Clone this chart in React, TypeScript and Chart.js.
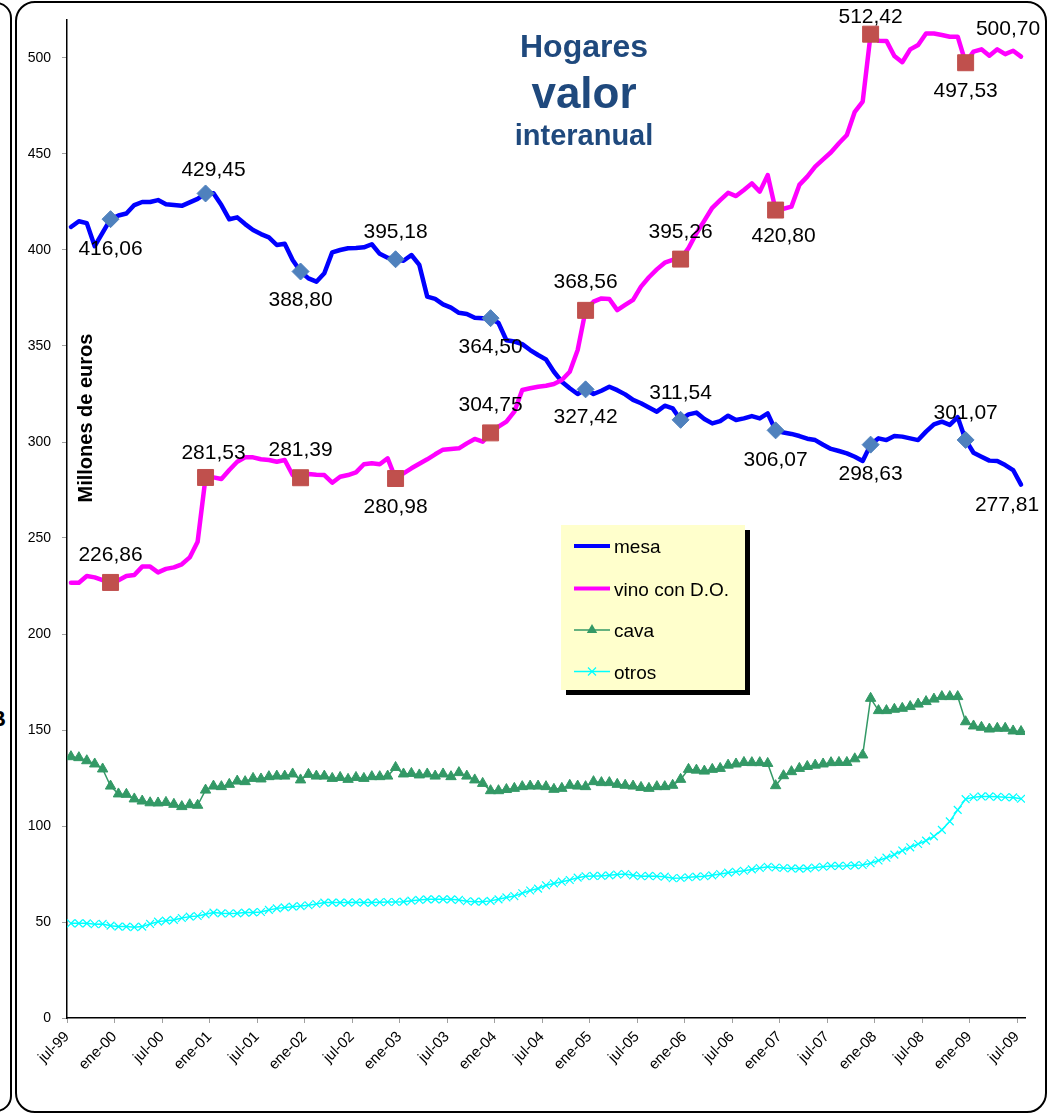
import React, { useEffect, useRef } from "react";
import { Chart, registerables } from "chart.js";

Chart.register(...registerables);

const FONT = '"Liberation Sans", Arial, Helvetica, sans-serif';

// ---- Axis ticks ----
const xTickLabels = [
  "jul-99", "ene-00", "jul-00", "ene-01", "jul-01", "ene-02", "jul-02",
  "ene-03", "jul-03", "ene-04", "jul-04", "ene-05", "jul-05", "ene-06",
  "jul-06", "ene-07", "jul-07", "ene-08", "jul-08", "ene-09", "jul-09",
];
const xTickMonths = [0, 6, 12, 18, 24, 30, 36, 42, 48, 54, 60, 66, 72, 78, 84, 90, 96, 102, 108, 114, 120];
const yTicks = [0, 50, 100, 150, 200, 250, 300, 350, 400, 450, 500];

// ---- Series (monthly, jul-99 .. jul-09, millones de euros) ----
const mesa = [
  412, 415, 414, 402, 409, 416.06, 418, 419, 423.4, 425, 425, 426,
  423.8, 423.4, 423, 424.8, 426.6, 429.45, 429.5, 423.4, 416, 417, 413.5, 410.4,
  408.3, 406.6, 402.6, 403.3, 394.8, 388.8, 385.2, 383.5, 387.9, 398.8, 400, 400.9,
  401, 401.4, 403, 398, 396, 395.18, 394.4, 397.4, 392.2, 375.7, 374.5, 371.7,
  370, 367.3, 366.7, 364.7, 364.4, 364.5, 362, 353, 352.3, 351, 347.9, 345.3,
  343, 336.6, 331.4, 328, 325, 327.42, 325, 326.7, 328.8, 327, 324.8, 321.9,
  320.2, 318, 315.8, 318.9, 317.5, 311.54, 314.4, 315.3, 312, 309.7, 310.9, 313.7,
  311.5, 312.3, 313.5, 312.3, 314.9, 306.07, 304.9, 304.2, 303.1, 301.7, 301, 298.6,
  296.4, 295.3, 294.1, 292.3, 290.1, 298.63, 301.9, 301, 303.1, 302.8, 301.9, 301,
  305.4, 309.2, 310.6, 308.9, 312.9, 301.07, 294.4, 292.3, 290.3, 290.1, 288, 285.4,
  277.81,
];
const vino = [
  226.7, 226.7, 230.2, 229.5, 228.1, 226.86, 228, 230.2, 230.7, 235.1, 235.1, 232.1,
  233.9, 234.7, 236.3, 239.9, 248.1, 281.53, 281.6, 280.7, 285.4, 289.7, 292, 292,
  291, 290.6, 289.7, 290.6, 282.8, 281.39, 283.3, 283, 282.8, 278.8, 281.9, 282.8,
  284.2, 288.4, 288.9, 288.4, 291.5, 280.98, 283.7, 286.3, 288.7, 291, 293.6, 296,
  296.4, 296.7, 299.3, 301.6, 300.2, 304.75, 308, 310.6, 315.8, 327.1, 328, 328.8,
  329.3, 330.2, 332.3, 336.6, 347.9, 368.56, 373.1, 374.8, 374.5, 368.7, 371.4, 374,
  380.9, 385.8, 389.9, 393.4, 394.8, 395.26, 401, 408.7, 415.3, 422, 426, 429.8,
  428.1, 431.3, 434.7, 430.4, 439, 420.8, 421.5, 422.6, 433.9, 438.2, 443.4, 447.2,
  450.9, 455.6, 459.9, 472, 477.3, 512.42, 509, 508.9, 501, 497.8, 504.5, 506.8,
  512.8, 512.8, 512, 511.1, 511.1, 497.53, 503.3, 504.5, 501.2, 504.5, 502, 503.8,
  500.7,
];
const cava = [
  136.1, 135.6, 134, 132.3, 129.7, 120.8, 116.7, 116.5, 114.1, 113, 112.1, 112,
  112.3, 111.3, 110.1, 111.1, 110.8, 118.7, 120.8, 120.5, 121.7, 123.4, 123.1, 124.8,
  124.5, 125.7, 126, 126, 127.1, 124, 126.9, 126, 126, 124.8, 125.3, 124.3,
  125.3, 124.8, 125.7, 125.7, 126, 130.5, 127.1, 127.4, 126.6, 127.1, 126, 127.1,
  125.7, 127.8, 126, 124, 122.2, 118.4, 118.4, 119, 119.6, 120.5, 120.8, 120.8,
  120.5, 119.1, 119.6, 121.2, 120.8, 120.5, 123.1, 122.6, 122.6, 121.7, 121.2, 120.8,
  120.1, 119.6, 120.5, 120.5, 121.2, 124.3, 129.5, 129.1, 128.6, 129.5, 130, 131.7,
  132.3, 133.1, 133, 133, 132.6, 121, 126.2, 128.3, 130, 131, 131.7, 132.3,
  133, 133.1, 133.1, 135, 137, 166.5, 160.1, 160.1, 160.8, 161.3, 162.2, 163.5,
  164.8, 166.1, 167.4, 167.4, 167.4, 154.3, 152.1, 151.4, 150.5, 150.9, 150.9, 149.5,
  149.2,
];
const otros = [
  49.3, 49.3, 49.3, 48.8, 49, 48.1, 47.6, 47.6, 47.3, 47.6, 49, 50.2,
  50.7, 51.1, 52.1, 52.8, 53.1, 54, 54.9, 54.5, 54.4, 54.5, 54.9, 55,
  55.2, 56.3, 57.1, 57.6, 58, 58.3, 58.7, 59.4, 60.1, 60.1, 60.1, 60.1,
  60.3, 60.1, 60.1, 60.3, 60.4, 60.4, 60.6, 61.1, 61.5, 61.8, 61.8, 61.8,
  61.8, 61.5, 60.8, 60.6, 60.6, 61, 61.8, 62.8, 63.5, 65, 66.4, 67.4,
  69.1, 70.1, 71, 71.9, 73.1, 73.8, 74, 74, 74.3, 74.7, 75, 74.3,
  73.8, 74, 73.8, 73.6, 72.8, 72.9, 73.3, 73.6, 73.8, 74.3, 75, 75.7,
  76.2, 76.7, 77.4, 78.1, 78.8, 78.4, 78.1, 77.9, 77.8, 77.9, 78.4, 78.8,
  79.2, 79.2, 79.3, 79.5, 79.7, 80.6, 82, 83.5, 85.1, 87.2, 88.9, 90.6,
  92.4, 94.6, 98, 102.4, 108.4, 114, 115, 115.4, 115.4, 115.2, 115, 114.9,
  114.2,
];

// December (year-end) points carrying markers and value labels, plus the last month
const annualMonths = [5, 17, 29, 41, 53, 65, 77, 89, 101, 113];
const labeledMonths = [5, 17, 29, 41, 53, 65, 77, 89, 101, 113, 120];

const seriesNames = ["mesa", "vino con D.O.", "cava", "otros"];
const titleLines = ["Hogares", "valor", "interanual"];
const yAxisTitle = "Millones de euros";

// label placement offsets (px) relative to the point, same order as labeledMonths
const mesaLabelOffsets = [[0, 30], [8, -23], [0, 29], [0, -27], [0, 29], [0, 28], [0, -27], [0, 30], [0, 30], [0, -27], [-14, 21]];
const vinoLabelOffsets = [[0, -27], [8, -24], [0, -28], [0, 29], [0, -28], [0, -28], [0, -27], [8, 26], [0, -17], [0, 28], [-13, -27]];

const fmt = (v: number) => v.toFixed(2).replace(".", ",");

const overlayPlugin = {
  id: "overlay",
  afterDatasetsDraw(chart: any) {
    const ctx = chart.ctx as CanvasRenderingContext2D;
    ctx.save();
    // value labels
    ctx.fillStyle = "#000";
    ctx.font = `21px ${FONT}`;
    ctx.textAlign = "center";
    ctx.textBaseline = "middle";
    const drawLabels = (dsIndex: number, offsets: number[][]) => {
      const meta = chart.getDatasetMeta(dsIndex);
      const ds = chart.data.datasets[dsIndex];
      labeledMonths.forEach((m, k) => {
        const el = meta.data[m];
        const val = (ds.data[m] as any).y as number;
        ctx.fillText(fmt(val), el.x + offsets[k][0], el.y + offsets[k][1]);
      });
    };
    drawLabels(0, mesaLabelOffsets);
    drawLabels(1, vinoLabelOffsets);

    // title
    ctx.fillStyle = "#1F497D";
    ctx.textBaseline = "alphabetic";
    ctx.font = `bold 32px ${FONT}`;
    ctx.fillText(titleLines[0], 584, 57);
    ctx.font = `bold 44px ${FONT}`;
    ctx.fillText(titleLines[1], 584, 108);
    ctx.font = `bold 29px ${FONT}`;
    ctx.fillText(titleLines[2], 584, 145);

    // y-axis title (inside the plot)
    ctx.save();
    ctx.translate(86.5, 418);
    ctx.rotate(-Math.PI / 2);
    ctx.fillStyle = "#000";
    ctx.font = `bold 20px ${FONT}`;
    ctx.textBaseline = "middle";
    ctx.textAlign = "center";
    ctx.fillText(yAxisTitle, 0, 0);
    ctx.restore();

    // legend
    const lx = 561, ly = 525, lw = 184, lh = 165;
    ctx.fillStyle = "#000";
    ctx.fillRect(lx + 5, ly + 5, lw, lh);
    ctx.fillStyle = "#FFFFCC";
    ctx.fillRect(lx, ly, lw, lh);
    const rows = [546, 588.5, 630, 671.5];
    rows.forEach((ry, k) => {
      const ds = chart.data.datasets[k];
      ctx.strokeStyle = ds.borderColor;
      ctx.lineWidth = k < 2 ? 4 : 1.5;
      ctx.lineCap = "butt";
      ctx.beginPath();
      ctx.moveTo(574, ry);
      ctx.lineTo(610, ry);
      ctx.stroke();
      if (k === 2) {
        ctx.fillStyle = ds.borderColor;
        const r = 6;
        ctx.beginPath();
        ctx.moveTo(592, ry - r);
        ctx.lineTo(592 + r * 0.866, ry + r * 0.5);
        ctx.lineTo(592 - r * 0.866, ry + r * 0.5);
        ctx.closePath();
        ctx.fill();
      } else if (k === 3) {
        ctx.lineWidth = 1.2;
        const r = 4;
        ctx.beginPath();
        ctx.moveTo(592 - r, ry - r);
        ctx.lineTo(592 + r, ry + r);
        ctx.moveTo(592 + r, ry - r);
        ctx.lineTo(592 - r, ry + r);
        ctx.stroke();
      }
      ctx.fillStyle = "#000";
      ctx.font = `19px ${FONT}`;
      ctx.textAlign = "left";
      ctx.textBaseline = "alphabetic";
      ctx.fillText(seriesNames[k], 614, ry + 7);
    });
    ctx.restore();
  },
};

export default function App() {
  const ref = useRef<HTMLCanvasElement>(null);

  useEffect(() => {
    const canvas = ref.current;
    if (!canvas) return;
    const toPts = (arr: number[]) => arr.map((v, i) => ({ x: i + 0.5, y: v }));
    const markerRadius = (r: number) => (c: any) => (annualMonths.includes(c.dataIndex) ? r : 0);

    const chart = new Chart(canvas, {
      type: "line",
      data: {
        datasets: [
          {
            label: seriesNames[0],
            data: toPts(mesa),
            borderColor: "#0000FF",
            borderWidth: 4.5,
            borderJoinStyle: "round",
            borderCapStyle: "round",
            pointStyle: "rectRot",
            pointRadius: markerRadius(8.5),
            pointHoverRadius: markerRadius(8.5),
            pointBackgroundColor: "#4F81BD",
            pointBorderColor: "#4F81BD",
            pointBorderWidth: 1,
            tension: 0,
            order: 1,
          },
          {
            label: seriesNames[1],
            data: toPts(vino),
            borderColor: "#FF00FF",
            borderWidth: 4.5,
            borderJoinStyle: "round",
            borderCapStyle: "round",
            pointStyle: "rect",
            pointRadius: markerRadius(11.3),
            pointHoverRadius: markerRadius(11.3),
            pointBackgroundColor: "#C0504D",
            pointBorderColor: "#C0504D",
            pointBorderWidth: 1,
            tension: 0,
            order: 0,
          },
          {
            label: seriesNames[2],
            data: toPts(cava),
            borderColor: "#339966",
            borderWidth: 1.5,
            pointStyle: "triangle",
            pointRadius: 6,
            pointHoverRadius: 6,
            pointBackgroundColor: "#339966",
            pointBorderColor: "#339966",
            pointBorderWidth: 1,
            tension: 0,
            order: 2,
          },
          {
            label: seriesNames[3],
            data: toPts(otros),
            borderColor: "#00FFFF",
            borderWidth: 1.5,
            pointStyle: "crossRot",
            pointRadius: 5.5,
            pointHoverRadius: 5.5,
            pointBackgroundColor: "#00FFFF",
            pointBorderColor: "#00FFFF",
            pointBorderWidth: 1.2,
            tension: 0,
            order: 3,
          },
        ],
      },
      options: {
        animation: false,
        responsive: false,
        events: [],
        layout: { padding: { top: 19.6, right: 37, bottom: 0, left: 0 } },
        plugins: {
          legend: { display: false },
          tooltip: { enabled: false },
          title: { display: false },
        },
        scales: {
          x: {
            type: "linear",
            min: 0,
            max: 121,
            afterBuildTicks: (s: any) => {
              s.ticks = xTickMonths.map((v) => ({ value: v }));
            },
            afterFit: (s: any) => {
              s.height = 96;
            },
            ticks: {
              autoSkip: false,
              maxRotation: 45,
              minRotation: 45,
              padding: 5,
              color: "#000",
              font: { family: FONT, size: 15 },
              callback: (v: any) => {
                const k = xTickMonths.indexOf(Number(v));
                return k >= 0 ? xTickLabels[k] : "";
              },
            },
            grid: { drawOnChartArea: false, drawTicks: true, tickLength: 5, color: "#A0A0A0" },
            border: { display: true, color: "#000", width: 1.5 },
          },
          y: {
            type: "linear",
            min: 0,
            max: 520,
            afterBuildTicks: (s: any) => {
              s.ticks = yTicks.map((v) => ({ value: v }));
            },
            afterFit: (s: any) => {
              s.width = 67;
            },
            ticks: {
              padding: 11,
              color: "#000",
              font: { family: FONT, size: 14 },
              callback: (v: any) => String(v),
            },
            grid: { drawOnChartArea: false, drawTicks: true, tickLength: 5, color: "#A0A0A0" },
            border: { display: true, color: "#000", width: 1.5 },
          },
        },
      } as any,
      plugins: [overlayPlugin],
    });
    return () => chart.destroy();
  }, []);

  return (
    <div
      style={{
        position: "fixed",
        left: 0,
        top: 0,
        width: 1062,
        height: 1114,
        background: "#fff",
        overflow: "hidden",
      }}
    >
      <div
        style={{
          position: "absolute",
          left: -42,
          top: 2,
          width: 50,
          height: 1106,
          border: "2px solid #000",
          borderRadius: 16,
        }}
      />
      <span
        style={{
          position: "absolute",
          left: -10,
          top: 706,
          font: `bold 22px ${FONT}`,
          color: "#000",
        }}
      >
        B
      </span>
      <div
        style={{
          position: "absolute",
          left: 15,
          top: 1,
          width: 1028,
          height: 1108,
          border: "2px solid #000",
          borderRadius: 20,
        }}
      />
      <canvas
        ref={ref}
        width={1062}
        height={1114}
        style={{ position: "absolute", left: 0, top: 0, width: 1062, height: 1114 }}
      />
    </div>
  );
}
